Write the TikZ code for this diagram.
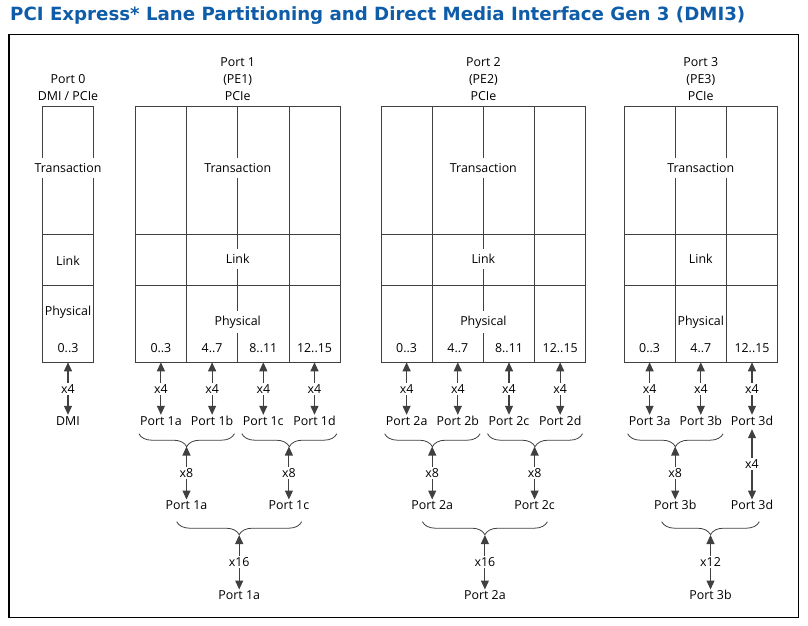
\documentclass[tikz,border=0pt]{standalone}
\usepackage{fontspec}
\setmainfont{Open Sans}
\newfontfamily\titlefont{DejaVu Sans}
\usetikzlibrary{arrows.meta,calc,decorations.pathreplacing}
\definecolor{intelblue}{HTML}{0F5CA8}
\definecolor{linegray}{HTML}{404040}

\begin{document}
\begin{tikzpicture}[x=1pt, y=-1pt, font=\fontsize{12.4}{17}\selectfont,
  gridline/.style={draw=linegray, line width=0.8pt},
  layertxt/.style={fill=white, inner xsep=2pt, inner ysep=5pt},
  lbl/.style={inner sep=1pt, text height=9pt, text depth=3pt},
  lanecount/.style={fill=white, inner sep=1.5pt},
  biarrow/.style={{Triangle[length=9pt,width=8pt]}-{Triangle[length=9pt,width=8pt]}, draw=linegray, line width=1.1pt},
  grp/.style={decorate, decoration={brace, mirror, amplitude=13pt}, draw=linegray, line width=0.8pt}]
  \useasboundingbox (0,0) rectangle (808,626);
  \node[anchor=base west, inner sep=0, text=intelblue, font=\titlefont\bfseries\fontsize{18.2}{20}\selectfont] (title) at (10,21)
    {PCI Express* Lane Partitioning and Direct Media Interface Gen 3 (DMI3)};
  \draw[black, line width=1.2pt] (9,34.3) rectangle (798.3,617.7);

  % port 0
  \draw[gridline] (42.7,106.7) rectangle (93.3,362.3);
  \draw[gridline] (42.7,234.3) -- (93.3,234.3) (42.7,285.7) -- (93.3,285.7);
  \node[align=center] (p0head) at (68,87.5) {Port 0\\DMI / PCIe};
  \node[layertxt] at (68,168) {Transaction};
  \node at (68,261) {Link};
  \node at (68,312) {Physical};
  \node (p0l0) at (68,348) {0..3};
  \coordinate (p0b0) at (68,362.3);
  \node[lbl] (p0dmi) at (68,422) {DMI};
  \draw[biarrow] (p0b0) -- (p0dmi) node[lanecount, midway] {x4};

  % ports 1 and 2: four x4 lanes each
  \foreach \p/\x in {1/135.3, 2/381}{
    \draw[gridline] (\x,106.7) rectangle ++(204.8,255.6);
    \draw[gridline] (\x,234.3) -- ++(204.8,0) (\x,285.7) -- ++(204.8,0)
      (\x+51.2,106.7) -- ++(0,255.6) (\x+102.4,106.7) -- ++(0,255.6) (\x+153.6,106.7) -- ++(0,255.6);
    \node[align=center] (p\p head) at (\x+102.4,79) {Port \p\\(PE\p)\\PCIe};
    \node[layertxt] at (\x+102.4,168) {Transaction};
    \node[layertxt] at (\x+102.4,259) {Link};
    \node[layertxt] at (\x+102.4,322) {Physical};
    \foreach \l/\s [count=\i from 0] in {0..3/a, 4..7/b, 8..11/c, 12..15/d}{
      \node (p\p l\i) at (\x+25.6+51.2*\i,348) {\l};
      \coordinate (p\p b\i) at (\x+25.6+51.2*\i,362.3);
      \node[lbl] (p\p\s) at (\x+25.6+51.2*\i,422) {Port \p\s};
      \draw[biarrow] (p\p b\i) -- (p\p\s) node[lanecount, midway] {x4};
    }
    % x8 pairs
    \draw[grp] ([yshift=-4.5pt]p\p a.south west) -- ([yshift=-4.5pt]p\p b.south east);
    \draw[grp] ([yshift=-4.5pt]p\p c.south west) -- ([yshift=-4.5pt]p\p d.south east);
    \coordinate (p\p ab) at (\x+51.2,446.5);
    \coordinate (p\p cd) at (\x+153.6,446.5);
    \node[lbl] (p\p A) at (\x+51.2,506.7) {Port \p a};
    \node[lbl] (p\p C) at (\x+153.6,506.7) {Port \p c};
    \draw[biarrow] (p\p ab) -- (p\p A) node[lanecount, midway] {x8};
    \draw[biarrow] (p\p cd) -- (p\p C) node[lanecount, midway] {x8};
    % x16
    \draw[grp] (\x+41.4,521.7) -- (\x+166.4,521.7);
    \coordinate (p\p all) at (\x+103.9,535);
    \node[lbl] (p\p top) at (\x+103.9,596.7) {Port \p a};
    \draw[biarrow] (p\p all) -- (p\p top) node[lanecount, midway] {x16};
  }

  % port 3: three x4 lanes
  \draw[gridline] (624,106.7) rectangle (777.6,362.3);
  \draw[gridline] (624,234.3) -- (777.6,234.3) (624,285.7) -- (777.6,285.7)
    (675.2,106.7) -- (675.2,362.3) (726.4,106.7) -- (726.4,362.3);
  \node[align=center] (p3head) at (700.8,79) {Port 3\\(PE3)\\PCIe};
  \node[layertxt] at (700.8,168) {Transaction};
  \node[layertxt] at (700.8,259) {Link};
  \node[layertxt] at (700.8,322) {Physical};
  \foreach \l/\s [count=\i from 0] in {0..3/a, 4..7/b, 12..15/d}{
    \node (p3l\i) at (649.6+51.2*\i,348) {\l};
    \coordinate (p3b\i) at (649.6+51.2*\i,362.3);
    \node[lbl] (p3\s) at (649.6+51.2*\i,422) {Port 3\s};
    \draw[biarrow] (p3b\i) -- (p3\s) node[lanecount, midway] {x4};
  }
  \draw[grp] ([yshift=-4.5pt]p3a.south west) -- ([yshift=-4.5pt]p3b.south east);
  \coordinate (p3ab) at (675.2,446.5);
  \node[lbl] (p3B) at (675.2,506.7) {Port 3b};
  \node[lbl] (p3D) at (752,506.7) {Port 3d};
  \draw[biarrow] (p3ab) -- (p3B) node[lanecount, midway] {x8};
  \draw[biarrow] (p3d) -- (p3D) node[lanecount, midway] {x4};
  \draw[grp] (661.7,521.7) -- (759.3,521.7);
  \coordinate (p3all) at (710.5,535);
  \node[lbl] (p3top) at (710.5,596.7) {Port 3b};
  \draw[biarrow] (p3all) -- (p3top) node[lanecount, midway] {x12};
\end{tikzpicture}
\end{document}
